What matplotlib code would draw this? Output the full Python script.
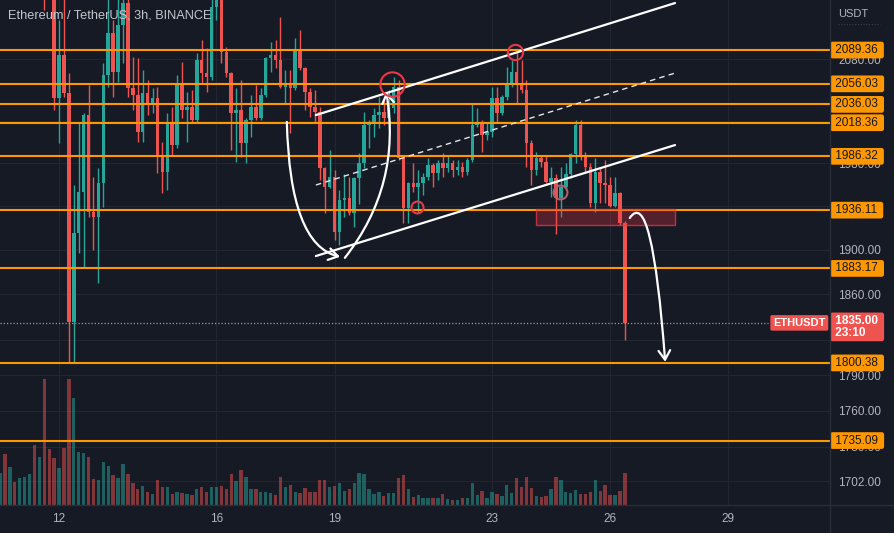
import matplotlib
matplotlib.use("Agg")
import matplotlib.pyplot as plt
from matplotlib.path import Path
from matplotlib.patches import FancyArrowPatch, Rectangle
from matplotlib.lines import Line2D
from matplotlib.ticker import FixedLocator, FixedFormatter, NullLocator

plt.rcParams['font.family'] = ['Liberation Sans', 'DejaVu Sans']

# ---------------- data: ETH/USDT 3h candles (index 0 = 10th 12:00) ----------------
opens = [2330, 2345, 2285, 2315, 2300, 2325, 2355, 2395, 2290, 2310,
         2190, 2170, 2042.2, 2084.4, 2047.1, 1836.0, 1915.3, 1953.0, 2025.8, 1934.5,
         1929.8, 1961.4, 2064.6, 2106.3, 2067.6, 2114.3, 2136.7, 2051.9, 2045.1, 2009.5,
         2047.1, 2037.4, 2042.2, 1985.7, 1971.6, 2018.1, 1997.0, 2056.8, 2030.6, 2033.5,
         2021.0, 2079.4, 2066.6, 2062.6, 2132.5, 2165, 2087.4, 2066.6, 2027.7, 2030.6,
         1999.0, 2021.0, 2033.5, 2022.9, 2045.1, 2081.4, 2084.4, 2079.4, 2052.9, 2056.8,
         2051.9, 2089.4, 2071.5, 2048.1, 2033.5, 2028.7, 1975.4, 1957.6, 1966.9, 1916.2,
         1945.6, 1947.5, 1933.5, 1966.0, 1980.0, 2016.2, 2018.1, 2025.8, 2028.7, 2022.9,
         2032.5, 2052.9, 1984.8, 1938.2, 1961.4, 1957.6, 1961.4, 1966.9, 1978.2, 1970.7,
         1980.0, 1975.4, 1980.0, 1973.5, 1976.3, 1971.6, 1982.9, 2016.2, 2019.1, 2006.6,
         2009.5, 2042.2, 2027.7, 2043.2, 2054.9, 2067.6, 2056.8, 2050.0, 1999.0, 1973.5,
         1984.8, 1981.0, 1962.2, 1966.0, 1947.5, 1957.6, 1969.7, 1988.5, 2016.2, 1985.7,
         1976.3, 1942.8, 1971.6, 1961.4, 1959.5, 1940.1, 1952.0, 1924.4]
highs = [2360, 2350, 2330, 2325, 2340, 2370, 2410, 2400, 2330, 2320,
         2230, 2185, 2119.3, 2150, 2066.6, 1959.5, 2019.1, 2027.7, 2054.9, 1966.9,
         1975.4, 2076.5, 2150, 2119.3, 2155, 2165, 2160, 2082.4, 2081.4, 2069.5,
         2059.8, 2051.9, 2052.9, 1999.9, 2027.7, 2033.5, 2064.6, 2077.4, 2048.1, 2050.0,
         2086.4, 2099.3, 2091.4, 2150, 2180, 2185, 2092.3, 2067.6, 2051.9, 2059.8,
         2022.9, 2045.1, 2054.9, 2051.9, 2082.4, 2097.3, 2099.3, 2122.3, 2069.5, 2069.5,
         2101.3, 2109.3, 2072.5, 2051.9, 2050.0, 2033.5, 1976.3, 1992.3, 1973.5, 1954.8,
         1969.7, 1966.9, 1966.9, 1989.5, 2028.7, 2021.0, 2032.5, 2043.2, 2040.3, 2050.0,
         2062.6, 2059.8, 1987.6, 1962.2, 1980.0, 1973.5, 1970.7, 1984.8, 1980.0, 1982.9,
         1989.5, 1987.6, 1982.9, 1982.9, 1981.0, 1984.8, 2037.4, 2032.5, 2021.0, 2018.1,
         2052.9, 2052.9, 2045.1, 2072.5, 2079.4, 2089.4, 2079.4, 2059.8, 2001.8, 1990.4,
         1987.6, 1987.6, 1976.3, 1969.7, 1976.3, 1980.0, 1989.5, 2021.0, 2021.0, 1990.4,
         1980.0, 1984.8, 1976.3, 1982.9, 1966.9, 1966.9, 1953.0, 1926.1]
lows = [2300, 2270, 2270, 2290, 2295, 2315, 2345, 2280, 2260, 2130,
        2150, 2030.6, 1999.0, 2043.2, 1801.4, 1801.4, 1897.2, 1884.6, 1929.8, 1899.9,
        1870.4, 1939.1, 2052.9, 2043.2, 2057.8, 2076.5, 2043.2, 2030.6, 1999.9, 1999.9,
        2025.8, 2027.7, 1970.7, 1952.0, 1954.8, 1987.6, 1994.2, 2022.9, 1999.9, 2019.1,
        2019.1, 2056.8, 2048.1, 2060.0, 2119.3, 2076.5, 2062.6, 1992.3, 1981.0, 1985.7,
        1980.0, 2004.7, 2021.0, 2021.0, 2043.2, 2067.6, 2071.5, 2051.9, 2037.4, 2008.5,
        2050.0, 2069.5, 2030.6, 2023.9, 2019.1, 1964.1, 1933.5, 1956.7, 1908.9, 1904.4,
        1929.8, 1931.7, 1920.7, 1941.6, 1975.4, 1994.2, 2004.7, 2013.3, 2016.2, 2020.0,
        2027.7, 1982.9, 1924.4, 1924.4, 1953.0, 1933.5, 1950.2, 1964.1, 1957.6, 1964.1,
        1966.9, 1971.6, 1966.9, 1968.8, 1966.9, 1968.8, 1981.0, 2014.3, 1990.4, 2001.8,
        2004.7, 2019.1, 2025.8, 2040.3, 2052.9, 2037.4, 2047.1, 1976.3, 1959.5, 1968.8,
        1976.3, 1961.4, 1948.4, 1914.3, 1929.8, 1954.8, 1966.0, 1980.0, 1982.9, 1970.7,
        1939.1, 1934.5, 1942.8, 1942.8, 1939.1, 1939.1, 1922.5, 1820.3]
closes = [2345, 2285, 2315, 2300, 2325, 2355, 2395, 2290, 2310, 2190,
          2170, 2042.2, 2084.4, 2047.1, 1836.0, 1915.3, 1953.0, 2025.8, 1934.5, 1929.8,
          1961.4, 2064.6, 2106.3, 2067.6, 2114.3, 2136.7, 2051.9, 2045.1, 2009.5, 2047.1,
          2037.4, 2042.2, 1985.7, 1971.6, 2018.1, 1997.0, 2056.8, 2030.6, 2033.5, 2021.0,
          2079.4, 2066.6, 2062.6, 2132.5, 2165, 2087.4, 2066.6, 2027.7, 2030.6, 1999.0,
          2021.0, 2033.5, 2022.9, 2045.1, 2081.4, 2084.4, 2079.4, 2052.9, 2056.8, 2051.9,
          2089.4, 2071.5, 2048.1, 2033.5, 2028.7, 1975.4, 1957.6, 1966.9, 1916.2, 1945.6,
          1947.5, 1933.5, 1966.0, 1980.0, 2016.2, 2018.1, 2025.8, 2028.7, 2022.9, 2032.5,
          2052.9, 1984.8, 1938.2, 1961.4, 1957.6, 1961.4, 1966.9, 1978.2, 1970.7, 1980.0,
          1975.4, 1980.0, 1973.5, 1976.3, 1971.6, 1982.9, 2016.2, 2019.1, 2006.6, 2009.5,
          2042.2, 2027.7, 2043.2, 2054.9, 2067.6, 2056.8, 2050.0, 1999.0, 1973.5, 1984.8,
          1981.0, 1962.2, 1966.0, 1947.5, 1957.6, 1969.7, 1988.5, 2016.2, 1985.7, 1976.3,
          1942.8, 1971.6, 1961.4, 1959.5, 1940.1, 1952.0, 1924.4, 1835.0]
volume_k = [95, 153, 115, 68, 80, 85, 93, 180, 143, 377,
            167, 142, 110, 172, 377, 322, 160, 155, 143, 78,
            75, 130, 118, 90, 82, 123, 92, 65, 47, 57,
            38, 33, 75, 55, 55, 33, 39, 37, 33, 30,
            48, 55, 40, 55, 55, 58, 47, 92, 73, 105,
            85, 47, 47, 40, 40, 37, 30, 85, 55, 60,
            40, 35, 50, 40, 40, 75, 75, 55, 57, 65,
            43, 48, 65, 95, 93, 48, 33, 40, 27, 37,
            37, 82, 90, 47, 25, 30, 22, 22, 20, 22,
            33, 17, 15, 15, 20, 20, 67, 30, 43, 20,
            40, 33, 27, 60, 37, 82, 53, 85, 50, 27,
            23, 27, 47, 85, 75, 40, 37, 45, 33, 33,
            38, 75, 43, 60, 30, 30, 43, 97]

levels = [2089.36, 2056.03, 2036.03, 2018.36, 1986.32, 1936.11, 1883.17, 1800.38, 1735.09]
last_price = 1835.00
countdown = "23:10"
price_ticks = [1702, 1730, 1760, 1790, 1820, 1860, 1900, 1940, 1980, 2020, 2080]
price_tick_labels = ["1702.00", "1730.00", "1760.00", "1790.00", "", "1860.00",
                     "1900.00", "", "1980.00", "", "2080.00"]
first_day = 10.5          # day of month of candle index 0 (10th, 12:00)
candles_per_day = 8       # 3h candles
day_ticks = [12, 16, 19, 23, 26, 29]

# drawings (chart units: candle index, price)
channel_upper = ([64.2, 137.2], [2025.7, 2136.6])
channel_lower = ([64.2, 137.2], [1894.3, 1997.0])
channel_mid = ([64.2, 137.2], [1959.4, 2066.6])
arc_left = [(58.3, 2019.1), (58.9, 1904.4), (69.1, 1893.6)]
arc_right = [(70.1, 1892.7), (81.7, 1959.5), (78.5, 2048.1)]
arc_drop = [(128.0, 1928.9), (132.5, 1959.5), (135.2, 1801.4)]
zone = (108.9, 137.2, 1922.4, 1937.2)
circles = [(79.7, 2055.9, 17.5, '#e8394a'), (104.7, 2087.4, 11, '#e8394a'),
           (84.8, 1939.1, 8.6, '#e8394a'), (113.8, 1953.0, 10, '#b0606a')]

# ---------------- style ----------------
BG = '#161a25'
GRID = '#222632'
UP = '#26a69a'
DOWN = '#ef5350'
ORANGE = '#ff9800'
TXT = '#b2b5be'

W, H = 894, 533
PX_PER_CANDLE = 4.92
fig = plt.figure(figsize=(W / 100, H / 100), dpi=100, facecolor=BG)
rect = [0, 28 / H, 830 / W, 505 / H]
ax_bg = fig.add_axes(rect, facecolor=BG)
ax_v = fig.add_axes(rect, sharex=ax_bg)
ax = fig.add_axes(rect, sharex=ax_bg, sharey=ax_bg)

ax_bg.set_yscale('log')
ax_bg.set_ylim(1682.7, 2139.7)
ax_bg.set_xlim(0, 830 / PX_PER_CANDLE)

ax_bg.yaxis.tick_right()
ax_bg.yaxis.set_major_locator(FixedLocator(price_ticks))
ax_bg.yaxis.set_major_formatter(FixedFormatter(price_tick_labels))
ax_bg.yaxis.set_minor_locator(NullLocator())
day_idx = [(d - first_day) * candles_per_day for d in day_ticks]
ax_bg.set_xticks(day_idx)
ax_bg.set_xticklabels([str(d) for d in day_ticks])
ax_bg.tick_params(axis='y', length=0, pad=5.8, labelsize=8.5, labelcolor=TXT)
ax_bg.tick_params(axis='x', length=0, pad=6, labelsize=8.5, labelcolor=TXT)
ax_bg.grid(True, color=GRID, lw=0.8)
for s in ax_bg.spines.values():
    s.set_visible(False)

# volume
n = len(closes)
idx = list(range(n))
vol_cols = [UP if c >= o else DOWN for o, c in zip(opens, closes)]
ax_v.bar(idx, volume_k, width=0.68, color=vol_cols, alpha=0.5, linewidth=0)
ax_v.set_ylim(0, 1515)
ax_v.axis('off')

# candles
cols = [UP if c >= o else DOWN for o, c in zip(opens, closes)]
ax.vlines(idx, lows, highs, colors=cols, lw=1.0, zorder=2)
bottoms = [min(o, c) for o, c in zip(opens, closes)]
heights = [max(abs(c - o), 0.8) for o, c in zip(opens, closes)]
ax.bar(idx, heights, bottom=bottoms, width=0.72, color=cols, linewidth=0, zorder=2.1)
ax.axis('off')

# horizontal levels
for lv in levels:
    ax.axhline(lv, color=ORANGE, lw=1.5, zorder=3)
    ax.annotate(f' {lv:.2f} ', xy=(1, lv), xycoords=('axes fraction', 'data'),
                xytext=(2.5, 0), textcoords='offset pixels', ha='left', va='center',
                fontsize=8.5, color='#131722', annotation_clip=False, zorder=10,
                bbox=dict(boxstyle='round,pad=0.2,rounding_size=0.2', fc=ORANGE, ec='none'))

# last price line + labels
ax.axhline(last_price, xmax=768 / 830, color='#9a9ca4', lw=0.9, ls=(0, (1, 1.6)), zorder=3)
ax.annotate('ETHUSDT', xy=(1, last_price), xycoords=('axes fraction', 'data'),
            xytext=(-4.5, 0), textcoords='offset pixels', ha='right', va='center',
            fontsize=8, fontweight='bold', color='white', annotation_clip=False, zorder=11,
            bbox=dict(boxstyle='round,pad=0.25,rounding_size=0.15', fc=DOWN, ec='none'))
ax.annotate(f' {last_price:.2f} \n {countdown}', xy=(1, last_price),
            xycoords=('axes fraction', 'data'), xytext=(2.5, 8), textcoords='offset pixels',
            ha='left', va='top', fontsize=8.5, fontweight='bold', color='white',
            linespacing=1.0, annotation_clip=False, zorder=11,
            bbox=dict(boxstyle='round,pad=0.2,rounding_size=0.2', fc=DOWN, ec='none'))

# drawings
ax.plot(*channel_upper, color='white', lw=1.6, zorder=5, solid_capstyle='round')
ax.plot(*channel_lower, color='white', lw=1.6, zorder=5, solid_capstyle='round')
ax.plot(*channel_mid, color='#e6e6e6', lw=1.0, ls=(0, (4, 3)), zorder=5)

for pts in (arc_left, arc_right, arc_drop):
    p = Path(pts, [Path.MOVETO, Path.CURVE3, Path.CURVE3])
    ax.add_patch(FancyArrowPatch(path=p, arrowstyle='->,head_length=0.55,head_width=0.35',
                                 mutation_scale=12, color='white', lw=1.6,
                                 transform=ax.transData, zorder=6))

x0, x1, y0, y1 = zone
ax.add_patch(Rectangle((x0, y0), x1 - x0, y1 - y0, facecolor=(0.95, 0.21, 0.27, 0.28),
                       edgecolor=(0.95, 0.21, 0.27, 0.75), lw=1.0, zorder=4))

for cx, cy, ms, c in circles:
    ax.plot([cx], [cy], 'o', ms=ms, mfc='none', mec=c, mew=1.5, zorder=6)

# texts and separators
fig.text(8 / W, 1 - 15 / H, 'Ethereum / TetherUS, 3h, BINANCE', fontsize=9.2,
         color='#c3c6cc', va='center', ha='left')
fig.text(838 / W, 1 - 14 / H, 'USDT', fontsize=8, color=TXT, va='center', ha='left')
fig.add_artist(Line2D([838 / W, 880 / W], [1 - 24 / H] * 2, color='#3a3e4a', lw=0.8,
                      ls=(0, (1, 1.5))))
fig.add_artist(Line2D([830 / W, 830 / W], [0, 1], color='#2a2e39', lw=1))
fig.add_artist(Line2D([0, 1], [28 / H, 28 / H], color='#2a2e39', lw=1))

fig.savefig('out.png', dpi=100, facecolor=BG)
